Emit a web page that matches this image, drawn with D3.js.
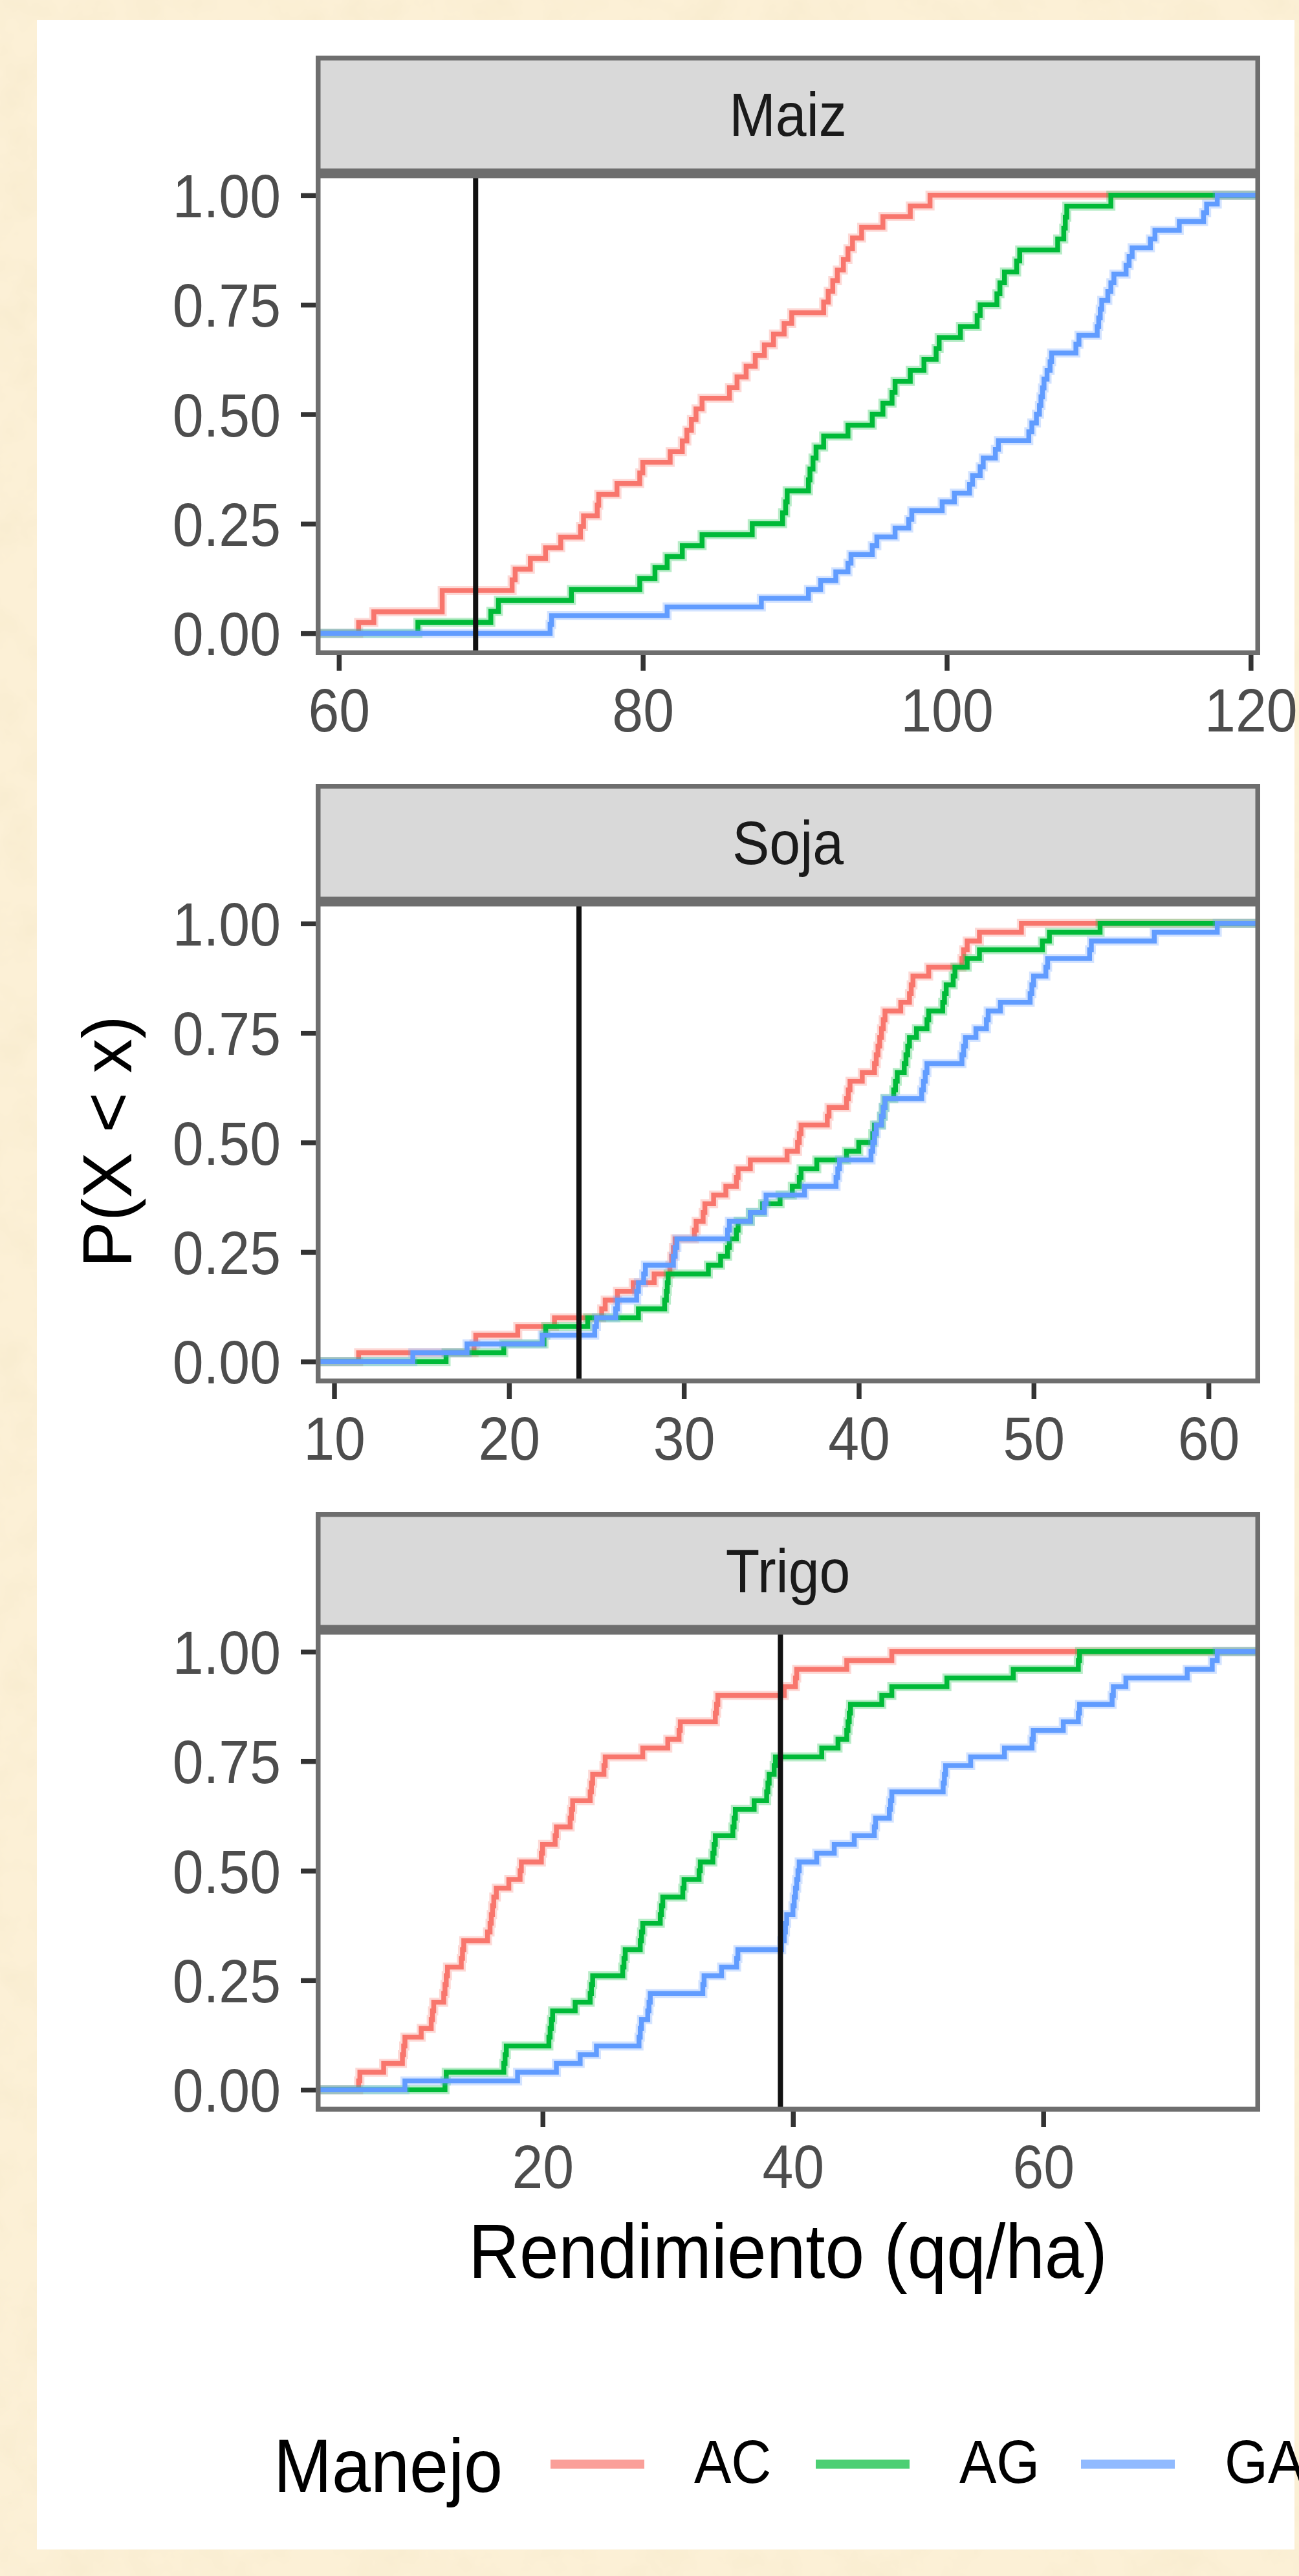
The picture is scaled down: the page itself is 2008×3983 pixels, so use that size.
<!DOCTYPE html>
<html>
<head>
<meta charset="utf-8">
<script src="https://cdn.jsdelivr.net/npm/d3@7"></script>
<style>
  html, body { margin: 0; padding: 0; background: #fcf0d6; }
  svg { display: block; }
</style>
</head>
<body>
<div id="chart"></div>
<script>
// facets, groups and colours
const cultivos = ["Maiz", "Soja", "Trigo"]
const manejo = ["AC", "AG", "GA"]
const colores = ["#F8766D", "#00BA38", "#619CFF"]

// yields (qq/ha)
const maizAC = [61.3, 62.3, 66.8, 66.8, 71.4, 71.6, 72.6, 73.6, 74.6, 75.9, 76.1, 77.0, 77.1, 78.3, 79.8, 80.0, 81.8,
  82.6, 82.9, 83.2, 83.5, 83.9, 85.7, 86.2, 86.8, 87.4, 88.0, 88.6, 89.3, 89.8, 91.9, 92.2, 92.5, 92.8, 93.2, 93.5,
  93.8, 94.4, 95.8, 97.6, 98.9]
const maizAG = [65.2, 70.0, 70.5, 75.3, 79.8, 80.8, 81.6, 82.6, 83.9, 87.2, 89.2, 89.4, 89.5, 90.9, 91.0, 91.2, 91.4,
  91.9, 93.5, 95.1, 95.8, 96.4, 96.6, 97.6, 98.5, 99.3, 99.5, 100.9, 102.0, 102.2, 103.3, 103.5, 103.8, 104.6, 104.8,
  107.3, 107.7, 107.8, 107.9, 110.8]
const maizGA = [73.9, 74.0, 81.6, 87.8, 90.9, 91.7, 92.7, 93.5, 93.7, 95.1, 95.4, 96.6, 97.5, 97.7, 99.7, 100.5, 101.5,
  101.7, 102.2, 102.4, 103.2, 103.4, 105.4, 105.6, 105.9, 106.1, 106.2, 106.3, 106.4, 106.6, 106.8, 106.9, 108.5,
  108.7, 109.9, 110.0, 110.1, 110.2, 110.6, 110.8, 111.0, 111.8, 112.0, 112.2, 113.4, 113.7, 115.3, 116.9, 117.1, 117.8]

const sojaAC = [11.4, 18.0, 18.1, 20.5, 22.6, 25.3, 25.5, 26.2, 27.1, 28.3, 29.2, 29.3, 29.4, 29.5, 30.6, 30.7, 31.1,
  31.2, 31.7, 32.4, 33.0, 33.1, 33.8, 35.9, 36.5, 36.6, 36.7, 38.2, 38.3, 39.3, 39.4, 39.5, 40.2, 40.9, 41.0, 41.1,
  41.2, 41.3, 41.4, 41.5, 42.4, 42.9, 43.0, 43.1, 44.0, 45.9, 46.0, 46.2, 46.9, 49.3]
const sojaAG = [16.4, 19.7, 22.0, 22.1, 24.5, 27.4, 28.9, 29.0, 29.05, 29.1, 31.4, 32.1, 32.5, 32.6, 33.0, 33.1, 33.8,
  34.5, 35.5, 36.2, 36.6, 36.7, 37.6, 39.3, 40.0, 40.8, 40.9, 41.3, 41.4, 41.5, 42.0, 42.1, 42.2, 42.6, 42.7, 42.8,
  42.9, 43.3, 43.9, 44.0, 44.8, 44.9, 45.0, 45.4, 45.5, 46.2, 46.9, 50.5, 50.9, 53.8]
const sojaGA = [14.5, 17.6, 21.9, 24.9, 25.0, 26.1, 26.2, 27.3, 27.4, 27.7, 27.8, 29.4, 29.5, 29.6, 32.5, 32.6, 33.8,
  34.6, 34.7, 36.9, 38.7, 38.8, 38.9, 40.7, 40.8, 40.9, 41.0, 41.3, 41.4, 41.5, 43.6, 43.7, 43.8, 43.9, 45.9, 46.0,
  46.1, 46.7, 47.3, 47.4, 48.1, 49.8, 49.9, 50.0, 50.7, 50.8, 53.2, 53.3, 56.9, 60.5]

const trigoAC = [5.3, 5.4, 7.3, 8.8, 8.9, 9.0, 10.3, 11.1, 11.2, 11.3, 12.1, 12.2, 12.3, 12.4, 13.5, 13.6, 13.7, 15.6,
  15.8, 15.9, 16.0, 16.1, 16.3, 17.3, 18.2, 18.3, 19.9, 20.0, 21.0, 21.1, 22.2, 22.3, 22.4, 23.8, 23.9, 24.0, 24.9,
  25.0, 28.0, 30.0, 30.9, 31.0, 33.8, 33.9, 34.0, 39.3, 40.2, 40.3, 44.3, 47.9]
const trigoAG = [12.2, 12.3, 16.9, 17.0, 17.1, 20.5, 20.6, 20.7, 20.8, 22.6, 23.8, 23.9, 24.0, 26.4, 26.5, 26.6, 27.8,
  27.9, 28.0, 29.4, 29.5, 29.6, 31.2, 31.3, 32.5, 32.6, 33.6, 33.7, 33.8, 35.2, 35.3, 35.4, 36.9, 37.9, 38.0, 38.1,
  38.5, 38.6, 42.3, 43.6, 44.3, 44.4, 44.5, 44.6, 47.1, 47.9, 52.3, 57.6, 62.8, 62.9]
const trigoGA = [9.0, 18.0, 21.1, 23.0, 24.3, 27.7, 27.8, 27.9, 28.4, 28.5, 28.6, 32.8, 32.9, 34.3, 35.5, 35.6, 39.1,
  39.3, 39.4, 39.5, 40.0, 40.1, 40.2, 40.3, 40.4, 40.5, 41.9, 43.3, 44.9, 46.5, 46.6, 47.7, 47.8, 47.9, 52.0, 52.1,
  52.2, 54.2, 56.9, 59.1, 59.2, 61.6, 62.8, 62.9, 65.5, 65.6, 66.6, 71.5, 73.5, 73.9]

// reference lines and ticks per facet
const umbrales = [69, 24, 39]
const xTicks = [[60, 80, 100, 120], [10, 20, 30, 40, 50, 60], [20, 40, 60]]
const yTicks = [0, 0.25, 0.5, 0.75, 1]

const datos = [
    [maizAC, maizAG, maizGA],
    [sojaAC, sojaAG, sojaGA],
    [trigoAC, trigoAG, trigoGA]
]

const W = 2008, H = 3983
const panelX0 = 488, panelX1 = 1948
const panelTop0 = 268, panelStep = 1126, panelH = 745, stripH = 182
const stretch = 1.09

const svg = d3.select("#chart").append("svg")
    .attr("width", W).attr("height", H)
    .style("font-family", "'Liberation Sans', Arial, sans-serif")

const defs = svg.append("defs")
const paper = defs.append("filter").attr("id", "paper")
    .attr("x", 0).attr("y", 0).attr("width", "100%").attr("height", "100%")
paper.append("feTurbulence").attr("type", "fractalNoise")
    .attr("baseFrequency", "0.015").attr("numOctaves", 4).attr("seed", 7)
paper.append("feColorMatrix").attr("type", "matrix")
    .attr("values", "0 0 0 0 0.88  0 0 0 0 0.78  0 0 0 0 0.55  0.7 0 0 0 -0.28")

// background + card
svg.append("rect").attr("width", W).attr("height", H).attr("fill", "#fcf0d6")
svg.append("rect").attr("width", W).attr("height", H).attr("filter", "url(#paper)")
svg.append("rect").attr("x", 57).attr("y", 31).attr("width", 1944).attr("height", 3911).attr("fill", "#fff")

function label(g, x, y, str, size, anchor, fill){
    return g.append("text")
        .attr("transform", `translate(${x},${y}) scale(1,${stretch})`)
        .attr("text-anchor", anchor)
        .attr("font-size", size)
        .attr("fill", fill)
        .text(str)
}

function ecdf(vals, x0, x1){
    const s = vals.slice().sort(d3.ascending)
    const n = s.length
    const pts = [[x0, 0]]
    s.forEach((v, i) => {
        if (i < n - 1 && s[i + 1] === v) return
        pts.push([v, (i + 1) / n])
    })
    pts.push([x1, 1])
    return pts
}

cultivos.forEach((cultivo, p) => {
    const top = panelTop0 + p * panelStep
    const bottom = top + panelH
    const g = svg.append("g")

    const all = d3.merge(datos[p])
    const [lo, hi] = d3.extent(all)
    const pad = (hi - lo) * 0.05
    const x = d3.scaleLinear().domain([lo - pad, hi + pad]).range([panelX0, panelX1])
    const y = d3.scaleLinear().domain([-0.05, 1.05]).range([bottom, top])

    // strip
    g.append("rect")
        .attr("x", panelX0 + 3.75).attr("y", top - stripH + 3.75)
        .attr("width", panelX1 - panelX0 - 7.5).attr("height", stripH - 7.5)
        .attr("fill", "#d9d9d9").attr("stroke", "#6e6e6e").attr("stroke-width", 7.5)
    label(g, (panelX0 + panelX1) / 2, top - stripH / 2 + 33, cultivo, 86, "middle", "#1a1a1a")

    // panel
    g.append("rect")
        .attr("x", panelX0).attr("y", top).attr("width", panelX1 - panelX0).attr("height", panelH)
        .attr("fill", "#fff")

    const clipId = "clip" + p
    defs.append("clipPath").attr("id", clipId).append("rect")
        .attr("x", panelX0).attr("y", top).attr("width", panelX1 - panelX0).attr("height", panelH)

    const plot = g.append("g").attr("clip-path", `url(#${clipId})`)
    const line = d3.line().x(d => x(d[0])).y(d => y(d[1])).curve(d3.curveStepAfter)

    datos[p].forEach((vals, k) => {
        const pts = ecdf(vals, x.domain()[0], x.domain()[1])
        plot.append("path").attr("d", line(pts)).attr("fill", "none")
            .attr("stroke", colores[k]).attr("stroke-width", 14).attr("stroke-opacity", 0.28)
        plot.append("path").attr("d", line(pts)).attr("fill", "none")
            .attr("stroke", colores[k]).attr("stroke-width", 7.5)
    })

    plot.append("line")
        .attr("x1", x(umbrales[p])).attr("x2", x(umbrales[p]))
        .attr("y1", top).attr("y2", bottom)
        .attr("stroke", "#111").attr("stroke-width", 8)

    g.append("rect")
        .attr("x", panelX0 + 3.75).attr("y", top + 3.75)
        .attr("width", panelX1 - panelX0 - 7.5).attr("height", panelH - 7.5)
        .attr("fill", "none").attr("stroke", "#6e6e6e").attr("stroke-width", 7.5)

    // axes
    const xAxis = g.append("g").attr("transform", `translate(0,${bottom})`)
        .call(d3.axisBottom(x).tickValues(xTicks[p]).tickSize(24).tickPadding(23).tickFormat(d3.format("d")))
    const yAxis = g.append("g").attr("transform", `translate(${panelX0},0)`)
        .call(d3.axisLeft(y).tickValues(yTicks).tickSize(23).tickPadding(31).tickFormat(d3.format(".2f")))

    ;[xAxis, yAxis].forEach(ax => {
        ax.select(".domain").remove()
        ax.selectAll(".tick line").attr("stroke", "#333").attr("stroke-width", 7.5)
        ax.selectAll(".tick text")
            .attr("font-size", 86).attr("fill", "#4d4d4d")
            .attr("font-family", "'Liberation Sans', Arial, sans-serif")
            .attr("transform", `scale(1,${stretch})`)
    })
    yAxis.selectAll(".tick text").attr("dy", "0.36em")
})

// axis titles
label(svg, (panelX0 + panelX1) / 2, 3522, "Rendimiento (qq/ha)", 109, "middle", "#000")
svg.append("text")
    .attr("transform", "translate(203,1765) rotate(-90)")
    .attr("text-anchor", "middle").attr("font-size", 107).attr("fill", "#000")
    .text("P(X < x)")

// legend
const legend = svg.append("g")
label(legend, 423, 3853, "Manejo", 108, "start", "#000")
manejo.forEach((m, k) => {
    const kx = 851 + k * 410
    legend.append("line")
        .attr("x1", kx).attr("x2", kx + 145).attr("y1", 3810).attr("y2", 3810)
        .attr("stroke", colores[k]).attr("stroke-width", 14).attr("stroke-opacity", 0.7)
    label(legend, kx + 222, 3839, m, 86, "start", "#000")
})
</script>
</body>
</html>
